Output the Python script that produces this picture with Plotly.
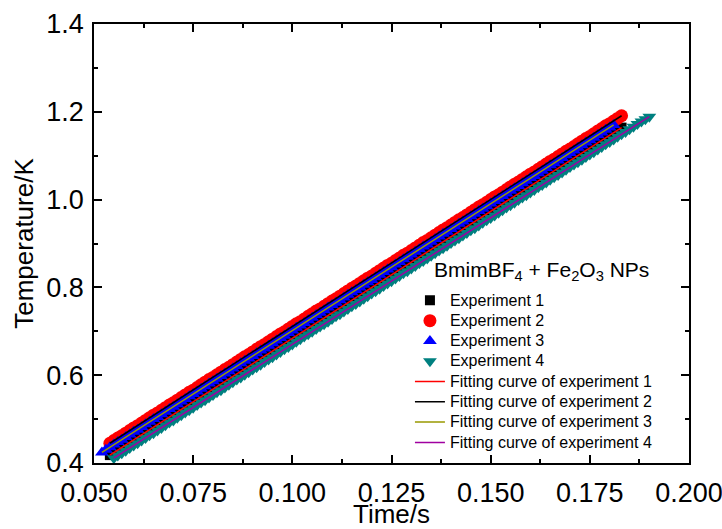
import plotly.graph_objects as go

# Time (s) and temperature (K) readings for the four heating experiments
time_exp1 = [0.054, 0.055, 0.056, 0.057, 0.058, 0.059, 0.060, 0.061, 0.062, 0.063,
             0.064, 0.065, 0.066, 0.067, 0.068, 0.069, 0.070, 0.071, 0.072, 0.073,
             0.074, 0.075, 0.076, 0.077, 0.078, 0.079, 0.080, 0.081, 0.082, 0.083,
             0.084, 0.085, 0.086, 0.087, 0.088, 0.089, 0.090, 0.091, 0.092, 0.093,
             0.094, 0.095, 0.096, 0.097, 0.098, 0.099, 0.100, 0.101, 0.102, 0.103,
             0.104, 0.105, 0.106, 0.107, 0.108, 0.109, 0.110, 0.111, 0.112, 0.113,
             0.114, 0.115, 0.116, 0.117, 0.118, 0.119, 0.120, 0.121, 0.122, 0.123,
             0.124, 0.125, 0.126, 0.127, 0.128, 0.129, 0.130, 0.131, 0.132, 0.133,
             0.134, 0.135, 0.136, 0.137, 0.138, 0.139, 0.140, 0.141, 0.142, 0.143,
             0.144, 0.145, 0.146, 0.147, 0.148, 0.149, 0.150, 0.151, 0.152, 0.153,
             0.154, 0.155, 0.156, 0.157, 0.158, 0.159, 0.160, 0.161, 0.162, 0.163,
             0.164, 0.165, 0.166, 0.167, 0.168, 0.169, 0.170, 0.171, 0.172, 0.173,
             0.174, 0.175, 0.176, 0.177, 0.178, 0.179, 0.180, 0.181, 0.182, 0.183]
temp_exp1 = [0.418, 0.424, 0.430, 0.435, 0.441, 0.447, 0.453, 0.458, 0.464, 0.470,
             0.476, 0.482, 0.487, 0.493, 0.499, 0.505, 0.510, 0.516, 0.522, 0.528,
             0.534, 0.539, 0.545, 0.551, 0.557, 0.562, 0.568, 0.574, 0.580, 0.586,
             0.591, 0.597, 0.603, 0.609, 0.615, 0.620, 0.626, 0.632, 0.638, 0.643,
             0.649, 0.655, 0.661, 0.667, 0.672, 0.678, 0.684, 0.690, 0.695, 0.701,
             0.707, 0.713, 0.719, 0.724, 0.730, 0.736, 0.742, 0.747, 0.753, 0.759,
             0.765, 0.771, 0.776, 0.782, 0.788, 0.794, 0.799, 0.805, 0.811, 0.817,
             0.823, 0.828, 0.834, 0.840, 0.846, 0.851, 0.857, 0.863, 0.869, 0.875,
             0.880, 0.886, 0.892, 0.898, 0.904, 0.909, 0.915, 0.921, 0.927, 0.932,
             0.938, 0.944, 0.950, 0.956, 0.961, 0.967, 0.973, 0.979, 0.984, 0.990,
             0.996, 1.002, 1.008, 1.013, 1.019, 1.025, 1.031, 1.036, 1.042, 1.048,
             1.054, 1.060, 1.065, 1.071, 1.077, 1.083, 1.088, 1.094, 1.100, 1.106,
             1.112, 1.117, 1.123, 1.129, 1.135, 1.141, 1.146, 1.152, 1.158, 1.164]

time_exp2 = [0.054, 0.055, 0.056, 0.057, 0.058, 0.059, 0.060, 0.061, 0.062, 0.063,
             0.064, 0.065, 0.066, 0.067, 0.068, 0.069, 0.070, 0.071, 0.072, 0.073,
             0.074, 0.075, 0.076, 0.077, 0.078, 0.079, 0.080, 0.081, 0.082, 0.083,
             0.084, 0.085, 0.086, 0.087, 0.088, 0.089, 0.090, 0.091, 0.092, 0.093,
             0.094, 0.095, 0.096, 0.097, 0.098, 0.099, 0.100, 0.101, 0.102, 0.103,
             0.104, 0.105, 0.106, 0.107, 0.108, 0.109, 0.110, 0.111, 0.112, 0.113,
             0.114, 0.115, 0.116, 0.117, 0.118, 0.119, 0.120, 0.121, 0.122, 0.123,
             0.124, 0.125, 0.126, 0.127, 0.128, 0.129, 0.130, 0.131, 0.132, 0.133,
             0.134, 0.135, 0.136, 0.137, 0.138, 0.139, 0.140, 0.141, 0.142, 0.143,
             0.144, 0.145, 0.146, 0.147, 0.148, 0.149, 0.150, 0.151, 0.152, 0.153,
             0.154, 0.155, 0.156, 0.157, 0.158, 0.159, 0.160, 0.161, 0.162, 0.163,
             0.164, 0.165, 0.166, 0.167, 0.168, 0.169, 0.170, 0.171, 0.172, 0.173,
             0.174, 0.175, 0.176, 0.177, 0.178, 0.179, 0.180, 0.181, 0.182, 0.183]
temp_exp2 = [0.445, 0.451, 0.457, 0.462, 0.468, 0.474, 0.480, 0.485, 0.491, 0.497,
             0.503, 0.509, 0.514, 0.520, 0.526, 0.532, 0.537, 0.543, 0.549, 0.555,
             0.561, 0.566, 0.572, 0.578, 0.584, 0.590, 0.595, 0.601, 0.607, 0.613,
             0.618, 0.624, 0.630, 0.636, 0.642, 0.647, 0.653, 0.659, 0.665, 0.670,
             0.676, 0.682, 0.688, 0.694, 0.699, 0.705, 0.711, 0.717, 0.722, 0.728,
             0.734, 0.740, 0.746, 0.751, 0.757, 0.763, 0.769, 0.774, 0.780, 0.786,
             0.792, 0.798, 0.803, 0.809, 0.815, 0.821, 0.826, 0.832, 0.838, 0.844,
             0.850, 0.855, 0.861, 0.867, 0.873, 0.878, 0.884, 0.890, 0.896, 0.902,
             0.907, 0.913, 0.919, 0.925, 0.931, 0.936, 0.942, 0.948, 0.954, 0.959,
             0.965, 0.971, 0.977, 0.983, 0.988, 0.994, 1.000, 1.006, 1.011, 1.017,
             1.023, 1.029, 1.035, 1.040, 1.046, 1.052, 1.058, 1.063, 1.069, 1.075,
             1.081, 1.087, 1.092, 1.098, 1.104, 1.110, 1.115, 1.121, 1.127, 1.133,
             1.139, 1.144, 1.150, 1.156, 1.162, 1.168, 1.173, 1.179, 1.185, 1.191]

time_exp3 = [0.052, 0.053, 0.054, 0.055, 0.056, 0.057, 0.058, 0.059, 0.060, 0.061,
             0.062, 0.063, 0.064, 0.065, 0.066, 0.067, 0.068, 0.069, 0.070, 0.071,
             0.072, 0.073, 0.074, 0.075, 0.076, 0.077, 0.078, 0.079, 0.080, 0.081,
             0.082, 0.083, 0.084, 0.085, 0.086, 0.087, 0.088, 0.089, 0.090, 0.091,
             0.092, 0.093, 0.094, 0.095, 0.096, 0.097, 0.098, 0.099, 0.100, 0.101,
             0.102, 0.103, 0.104, 0.105, 0.106, 0.107, 0.108, 0.109, 0.110, 0.111,
             0.112, 0.113, 0.114, 0.115, 0.116, 0.117, 0.118, 0.119, 0.120, 0.121,
             0.122, 0.123, 0.124, 0.125, 0.126, 0.127, 0.128, 0.129, 0.130, 0.131,
             0.132, 0.133, 0.134, 0.135, 0.136, 0.137, 0.138, 0.139, 0.140, 0.141,
             0.142, 0.143, 0.144, 0.145, 0.146, 0.147, 0.148, 0.149, 0.150, 0.151,
             0.152, 0.153, 0.154, 0.155, 0.156, 0.157, 0.158, 0.159, 0.160, 0.161,
             0.162, 0.163, 0.164, 0.165, 0.166, 0.167, 0.168, 0.169, 0.170, 0.171,
             0.172, 0.173, 0.174, 0.175, 0.176, 0.177, 0.178, 0.179, 0.180, 0.181]
temp_exp3 = [0.424, 0.430, 0.436, 0.442, 0.448, 0.453, 0.459, 0.465, 0.471, 0.476,
             0.482, 0.488, 0.494, 0.500, 0.505, 0.511, 0.517, 0.523, 0.528, 0.534,
             0.540, 0.546, 0.552, 0.557, 0.563, 0.569, 0.575, 0.581, 0.586, 0.592,
             0.598, 0.604, 0.609, 0.615, 0.621, 0.627, 0.633, 0.638, 0.644, 0.650,
             0.656, 0.661, 0.667, 0.673, 0.679, 0.685, 0.690, 0.696, 0.702, 0.708,
             0.713, 0.719, 0.725, 0.731, 0.737, 0.742, 0.748, 0.754, 0.760, 0.765,
             0.771, 0.777, 0.783, 0.789, 0.794, 0.800, 0.806, 0.812, 0.817, 0.823,
             0.829, 0.835, 0.841, 0.846, 0.852, 0.858, 0.864, 0.870, 0.875, 0.881,
             0.887, 0.893, 0.898, 0.904, 0.910, 0.916, 0.922, 0.927, 0.933, 0.939,
             0.945, 0.950, 0.956, 0.962, 0.968, 0.974, 0.979, 0.985, 0.991, 0.997,
             1.002, 1.008, 1.014, 1.020, 1.026, 1.031, 1.037, 1.043, 1.049, 1.054,
             1.060, 1.066, 1.072, 1.078, 1.083, 1.089, 1.095, 1.101, 1.106, 1.112,
             1.118, 1.124, 1.130, 1.135, 1.141, 1.147, 1.153, 1.159, 1.164, 1.170]

time_exp4 = [0.055, 0.056, 0.057, 0.058, 0.059, 0.060, 0.061, 0.062, 0.063, 0.064,
             0.065, 0.066, 0.067, 0.068, 0.069, 0.070, 0.071, 0.072, 0.073, 0.074,
             0.075, 0.076, 0.077, 0.078, 0.079, 0.080, 0.081, 0.082, 0.083, 0.084,
             0.085, 0.086, 0.087, 0.088, 0.089, 0.090, 0.091, 0.092, 0.093, 0.094,
             0.095, 0.096, 0.097, 0.098, 0.099, 0.100, 0.101, 0.102, 0.103, 0.104,
             0.105, 0.106, 0.107, 0.108, 0.109, 0.110, 0.111, 0.112, 0.113, 0.114,
             0.115, 0.116, 0.117, 0.118, 0.119, 0.120, 0.121, 0.122, 0.123, 0.124,
             0.125, 0.126, 0.127, 0.128, 0.129, 0.130, 0.131, 0.132, 0.133, 0.134,
             0.135, 0.136, 0.137, 0.138, 0.139, 0.140, 0.141, 0.142, 0.143, 0.144,
             0.145, 0.146, 0.147, 0.148, 0.149, 0.150, 0.151, 0.152, 0.153, 0.154,
             0.155, 0.156, 0.157, 0.158, 0.159, 0.160, 0.161, 0.162, 0.163, 0.164,
             0.165, 0.166, 0.167, 0.168, 0.169, 0.170, 0.171, 0.172, 0.173, 0.174,
             0.175, 0.176, 0.177, 0.178, 0.179, 0.180, 0.181, 0.182, 0.183, 0.184,
             0.185, 0.186, 0.187, 0.188, 0.189, 0.190]
temp_exp4 = [0.411, 0.417, 0.422, 0.428, 0.434, 0.440, 0.445, 0.451, 0.457, 0.463,
             0.468, 0.474, 0.480, 0.486, 0.492, 0.497, 0.503, 0.509, 0.515, 0.520,
             0.526, 0.532, 0.538, 0.543, 0.549, 0.555, 0.561, 0.566, 0.572, 0.578,
             0.584, 0.590, 0.595, 0.601, 0.607, 0.613, 0.618, 0.624, 0.630, 0.636,
             0.641, 0.647, 0.653, 0.659, 0.664, 0.670, 0.676, 0.682, 0.688, 0.693,
             0.699, 0.705, 0.711, 0.716, 0.722, 0.728, 0.734, 0.739, 0.745, 0.751,
             0.757, 0.762, 0.768, 0.774, 0.780, 0.786, 0.791, 0.797, 0.803, 0.809,
             0.814, 0.820, 0.826, 0.832, 0.837, 0.843, 0.849, 0.855, 0.860, 0.866,
             0.872, 0.878, 0.884, 0.889, 0.895, 0.901, 0.907, 0.912, 0.918, 0.924,
             0.930, 0.935, 0.941, 0.947, 0.953, 0.958, 0.964, 0.970, 0.976, 0.982,
             0.987, 0.993, 0.999, 1.005, 1.010, 1.016, 1.022, 1.028, 1.033, 1.039,
             1.045, 1.051, 1.056, 1.062, 1.068, 1.074, 1.080, 1.085, 1.091, 1.097,
             1.103, 1.108, 1.114, 1.120, 1.126, 1.131, 1.137, 1.143, 1.149, 1.154,
             1.160, 1.166, 1.172, 1.178, 1.183, 1.189]

# Linear fits: end points (time, temperature) of each fitted line
fit_time_start = [0.054, 0.054, 0.052, 0.055]
fit_time_end = [0.183, 0.183, 0.181, 0.190]
fit_temp_start = [0.418, 0.445, 0.424, 0.411]
fit_temp_end = [1.164, 1.191, 1.170, 1.189]

exp_names = ["Experiment 1", "Experiment 2", "Experiment 3", "Experiment 4"]
fit_names = ["Fitting curve of experiment 1", "Fitting curve of experiment 2",
             "Fitting curve of experiment 3", "Fitting curve of experiment 4"]

exp_times = [time_exp1, time_exp2, time_exp3, time_exp4]
exp_temps = [temp_exp1, temp_exp2, temp_exp3, temp_exp4]
exp_symbols = ["square", "circle", "triangle-up", "triangle-down"]
exp_colors = ["#000000", "#ff0000", "#0000ff", "#008080"]
exp_sizes = [10, 13, 12, 12]
fit_colors = ["#ff0000", "#000000", "#999900", "#a000a0"]

FONT = "Liberation Sans, Arial, sans-serif"


def legend_label(text):
    return f'<span style="font-size:16px">{text}</span>'


fig = go.Figure()

for name, t, temp, sym, col, size in zip(exp_names, exp_times, exp_temps,
                                         exp_symbols, exp_colors, exp_sizes):
    fig.add_trace(go.Scatter(
        x=t, y=temp, mode="markers", name=legend_label(name),
        marker=dict(symbol=sym, color=col, size=size, line=dict(width=0)),
    ))

for name, t0, t1, y0, y1, col in zip(fit_names, fit_time_start, fit_time_end,
                                     fit_temp_start, fit_temp_end, fit_colors):
    fig.add_trace(go.Scatter(
        x=[t0, t1], y=[y0, y1], mode="lines", name=legend_label(name),
        line=dict(color=col, width=1.5),
    ))

axis_common = dict(
    showline=True, linecolor="black", linewidth=1.6, mirror="ticks",
    ticks="inside", ticklen=8, tickwidth=1.5, tickcolor="black",
    showgrid=False, zeroline=False, automargin=False,
    ticklabeloverflow="allow",
    tickfont=dict(family=FONT, size=27, color="black"),
)

fig.update_xaxes(
    range=[0.05, 0.2], dtick=0.025, tick0=0.05, tickformat=".3f",
    ticklabelstandoff=5,
    title=dict(text="Time/s", font=dict(family=FONT, size=26, color="black"), standoff=6),
    minor=dict(dtick=0.0125, ticks="inside", ticklen=4, tickwidth=1.5, tickcolor="black"),
    **axis_common,
)
fig.update_yaxes(
    range=[0.4, 1.4], dtick=0.2, tick0=0.4, tickformat=".1f",
    ticklabelstandoff=3,
    title=dict(text="Temperature/K", font=dict(family=FONT, size=26, color="black"), standoff=5),
    minor=dict(dtick=0.1, ticks="inside", ticklen=4, tickwidth=1.5, tickcolor="black"),
    **axis_common,
)

fig.add_annotation(
    text="BmimBF<sub>4</sub> + Fe<sub>2</sub>O<sub>3</sub> NPs",
    xref="paper", yref="paper", x=0.568, y=0.437, xanchor="left", yanchor="middle",
    showarrow=False, font=dict(family=FONT, size=21, color="black"),
)

fig.update_layout(
    width=722, height=529,
    margin=dict(l=94, r=33, t=24, b=66),
    paper_bgcolor="white", plot_bgcolor="white",
    font=dict(family=FONT, color="black"),
    showlegend=True,
    legend=dict(
        x=0.531, y=0.405, xanchor="left", yanchor="top",
        bgcolor="rgba(0,0,0,0)", borderwidth=0,
        font=dict(family=FONT, size=13.3, color="black"),
        itemsizing="trace",
    ),
)

fig.write_html("out.html")
